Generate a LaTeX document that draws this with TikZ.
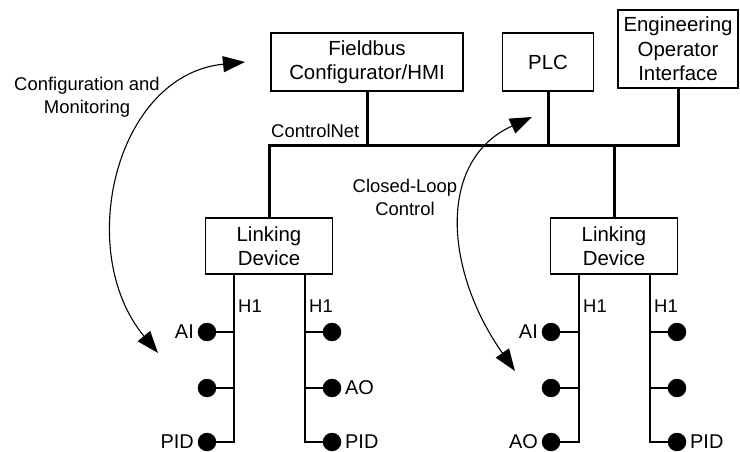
\documentclass[tikz,border=0pt]{standalone}
\usepackage{fontspec}
\setmainfont{Liberation Sans}
\usetikzlibrary{arrows.meta}
\begin{document}
\begin{tikzpicture}[x=1bp,y=-1bp,
 box/.style={draw,line width=1.2bp,inner sep=0pt,align=center,font=\fontsize{20.5}{24.5}\selectfont},
 bus/.style={line width=3bp,line join=miter},
 hl/.style={line width=1.3bp},
 dev/.style={circle,fill=black,inner sep=0pt,minimum size=18.5bp},
 lab/.style={font=\fontsize{20}{24}\selectfont,inner sep=0pt},
 small/.style={font=\fontsize{18.5}{23}\selectfont,inner sep=0pt,align=center},
 arr/.style={line width=1.1bp,{Triangle[length=22bp,width=16bp]}-{Triangle[length=22bp,width=16bp]}}
]
\useasboundingbox (0,0) rectangle (740,452);

% boxes
\node[box,minimum width=192bp,minimum height=58bp] (fc) at (367,62) {Fieldbus\\Configurator/HMI};
\node[box,minimum width=91bp,minimum height=58bp] (plc) at (548,62) {PLC};
\node[box,minimum width=120bp,minimum height=78bp] (eoi) at (678,49) {Engineering\\Operator\\Interface};
\node[box,minimum width=127bp,minimum height=56bp] (ld1) at (269,246) {Linking\\Device};
\node[box,minimum width=127bp,minimum height=56bp] (ld2) at (614,246) {Linking\\Device};

% ControlNet bus
\coordinate (bl) at (269,146);
\coordinate (br) at (678,146);
\draw[bus] (ld1.north) -- (bl) -- (br) -- (eoi.south);
\draw[bus] (fc.south) -- (fc.south |- bl);
\draw[bus] (plc.south) -- (plc.south |- bl);
\draw[bus] (ld2.north) -- (ld2.north |- bl);
\node[small,anchor=base west] (cn) at (271,138) {ControlNet};

% ---- left linking device segments
\coordinate (h11) at (234,274);
\coordinate (h12) at (305,274);
\node[dev] (d11) at (207,332) {};
\node[dev] (d12) at (207,388) {};
\node[dev] (d13) at (207,442) {};
\node[dev] (d14) at (332,332) {};
\node[dev] (d15) at (332,388) {};
\node[dev] (d16) at (332,442) {};
\draw[hl] (h11) |- (d13);
\draw[hl] (d11) -- (d11 -| h11);
\draw[hl] (d12) -- (d12 -| h11);
\draw[hl] (h12) |- (d16);
\draw[hl] (d14) -- (d14 -| h12);
\draw[hl] (d15) -- (d15 -| h12);
\node[small,anchor=base west] (l11) at (238,313) {H1};
\node[small,anchor=base west] (l12) at (309,313) {H1};
\node[lab,anchor=east] (t11) at (194,332) {AI};
\node[lab,anchor=east] (t13) at (194,442) {PID};
\node[lab,anchor=west] (t15) at (345,388) {AO};
\node[lab,anchor=west] (t16) at (345,442) {PID};

% ---- right linking device segments
\coordinate (h21) at (579,274);
\coordinate (h22) at (650,274);
\node[dev] (d21) at (551,332) {};
\node[dev] (d22) at (551,388) {};
\node[dev] (d23) at (551,442) {};
\node[dev] (d24) at (677,332) {};
\node[dev] (d25) at (677,388) {};
\node[dev] (d26) at (677,442) {};
\draw[hl] (h21) |- (d23);
\draw[hl] (d21) -- (d21 -| h21);
\draw[hl] (d22) -- (d22 -| h21);
\draw[hl] (h22) |- (d26);
\draw[hl] (d24) -- (d24 -| h22);
\draw[hl] (d25) -- (d25 -| h22);
\node[small,anchor=base west] (l21) at (583,313) {H1};
\node[small,anchor=base west] (l22) at (654,313) {H1};
\node[lab,anchor=east] (t21) at (538,332) {AI};
\node[lab,anchor=east] (t23) at (538,442) {AO};
\node[lab,anchor=west] (t26) at (690,442) {PID};

% ---- curved arrows
\coordinate (ca) at (158,353);
\coordinate (cb) at (245,62);
\draw[arr] (ca) .. controls (74,252) and (115,75) .. (cb);
\node[small] (cm) at (87,97) {Configuration and\\Monitoring};

\coordinate (ka) at (515,371);
\coordinate (kb) at (532,117);
\draw[arr] (ka) .. controls (444,270) and (437,160) .. (kb);
\node[small] (clc) at (405,197) {Closed-Loop\\Control};
\end{tikzpicture}
\end{document}
